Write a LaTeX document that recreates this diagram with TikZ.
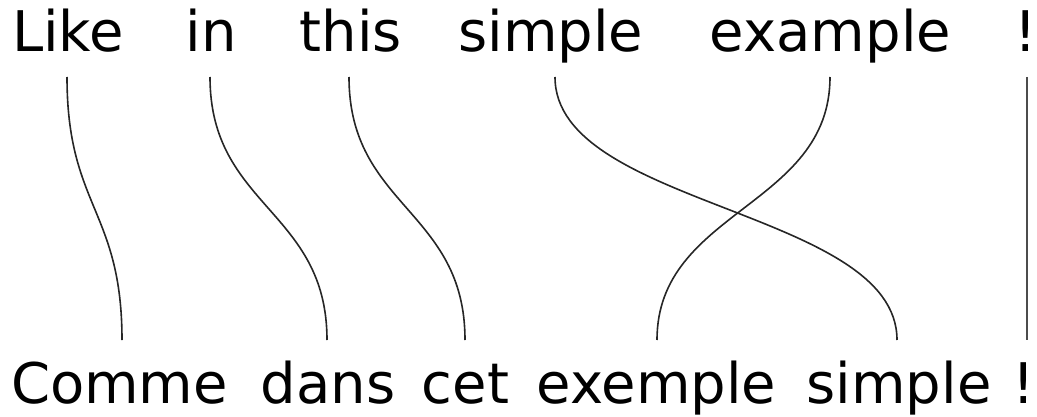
\documentclass[tikz,border=0pt]{standalone}
\usepackage{fontspec}
\setmainfont{DejaVu Sans}
\begin{document}
\begin{tikzpicture}[x=1pt,y=1pt,
  word/.style={inner sep=0pt, anchor=base, font=\fontsize{56}{60}\selectfont},
  link/.style={line width=1.6pt, black!85},
  ]
\useasboundingbox (0,0) rectangle (1037,416);
% English words
\node[word] (like) at (68,364) {Like};
\node[word] (in) at (211.5,364) {in};
\node[word] (this) at (351,364) {this};
\node[word] (simpleE) at (551,364) {simple};
\node[word] (example) at (830.5,364) {example};
\node[word] (exclE) at (1026,364) {!};
% French words
\node[word] (comme) at (119.5,13) {Comme};
\node[word] (dans) at (328,13) {dans};
\node[word] (cet) at (465.5,13) {cet};
\node[word] (exemple) at (656.5,13) {exemple};
\node[word] (simpleF) at (899,13) {simple};
\node[word] (exclF) at (1024,13) {!};
% link end points
\coordinate (t1) at (67,339);  \coordinate (b1) at (122,76);
\coordinate (t2) at (210,339); \coordinate (b2) at (327,76);
\coordinate (t3) at (349,339); \coordinate (b3) at (465,76);
\coordinate (t4) at (555,339); \coordinate (b4) at (897,76);
\coordinate (t5) at (830,339); \coordinate (b5) at (657,76);
\coordinate (t6) at (1027,339); \coordinate (b6) at (1027,76);
% links
\draw[link] (t1) .. controls ++(0,-130) and ++(0,130) .. (b1);
\draw[link] (t2) .. controls ++(0,-130) and ++(0,130) .. (b2);
\draw[link] (t3) .. controls ++(0,-130) and ++(0,130) .. (b3);
\draw[link] (t4) .. controls ++(0,-130) and ++(0,130) .. (b4);
\draw[link] (t5) .. controls ++(0,-130) and ++(0,130) .. (b5);
\draw[link, black!70] (t6) -- (b6);
\end{tikzpicture}
\end{document}
